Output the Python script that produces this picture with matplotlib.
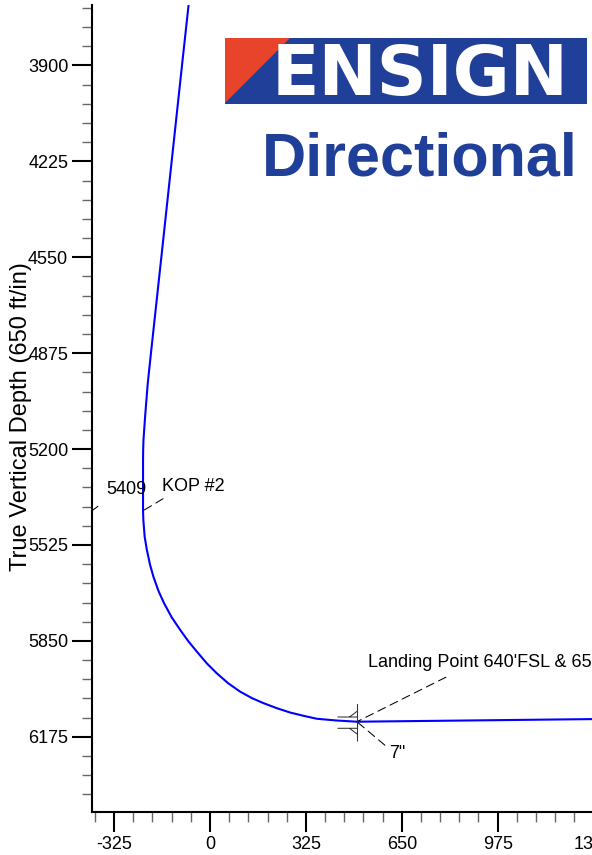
import matplotlib
matplotlib.use('Agg')
import matplotlib.pyplot as plt
from matplotlib.patches import Rectangle, Polygon
from matplotlib.path import Path
from matplotlib.ticker import MultipleLocator

plt.rcParams['font.family'] = ['Liberation Sans', 'DejaVu Sans']
plt.rcParams['axes.unicode_minus'] = False

# Well path: vertical section [ft] vs true vertical depth [ft]
vs_ft = [-71, -95, -130, -165, -199, -211, -220, -225.5, -226.5, -227, -227, -226, -221.5,
         -214, -203, -192, -175, -156, -130, -101, -73, -45, -11, 23, 62, 102,
         142, 181, 226, 272, 317, 362, 430, 498, 1310]
tvd_ft = [3680, 3900, 4225, 4550, 4864, 4977, 5090, 5169, 5200, 5237, 5409, 5440, 5497,
          5542, 5593, 5632, 5680, 5722, 5770, 5813, 5852, 5886, 5926, 5960, 5994, 6022,
          6044, 6061, 6078, 6093, 6104, 6114, 6120, 6124, 6115]

# Points of interest
kop = (-227, 5409)
kop_label = 'KOP #2'
kop_depth_label = '5409'
landing = (498, 6124)
landing_label = "Landing Point 640'FSL & 65"
casing_label = '7"'

W, H = 592, 855
BLUE_LOGO = '#1f3f98'
RED_LOGO = '#e8432b'

fig = plt.figure(figsize=(W / 100, H / 100), dpi=100)
ax = fig.add_axes([92 / W, 43 / H, 504.5 / W, 807 / H])

ax.plot(vs_ft, tvd_ft, color='#0000ff', lw=1.5, solid_joinstyle='round', zorder=3)

ax.set_xlim(-400, 1310)
ax.set_ylim(6430, 3695)

ax.xaxis.set_major_locator(MultipleLocator(325))
ax.yaxis.set_major_locator(MultipleLocator(325))
ax.xaxis.set_minor_locator(MultipleLocator(65))
ax.yaxis.set_minor_locator(MultipleLocator(65))
ax.tick_params(which='major', length=14.4, width=1.5, pad=2.7, labelsize=13, color='black')
ax.tick_params(which='minor', length=7.5, width=1.0, color='#666666')

ax.spines['top'].set_visible(False)
ax.spines['right'].set_visible(False)
ax.spines['left'].set_linewidth(1.5)
ax.spines['bottom'].set_linewidth(1.5)

ax.set_ylabel('True Vertical Depth (650 ft/in)', fontsize=17)
ax.yaxis.set_label_coords((21 - 92) / 504.5, 1 - (416.5 - 5) / 807)
ax.yaxis.label.set_va('center')

# casing shoe symbol at the landing point (offsets in pixels)
shoe = Path([(0, 18.5), (0, -19), (-20, 5.5), (0, 5.5), (-8, 5.5), (0, 11.5),
             (-20, -5.8), (0, -5.8), (-8, -5.8), (0, -11.8)],
            [Path.MOVETO, Path.LINETO] * 5)
ax.plot([landing[0]], [landing[1]], marker=shoe, markersize=40 / 1.389,
        markerfacecolor='none', markeredgecolor='#333333', markeredgewidth=0.75,
        linestyle='none', zorder=4)

dash = dict(arrowstyle='-', color='black', lw=0.75, linestyle=(0, (8, 5)),
            shrinkA=0, shrinkB=0)


def leader(xy, off):
    ax.annotate('', xy=xy, xytext=off, textcoords='offset pixels',
                arrowprops=dash, annotation_clip=False)


def label(txt, xy, off):
    ax.annotate(txt, xy=xy, xytext=off, textcoords='offset pixels',
                ha='left', va='baseline', fontsize=13, annotation_clip=False)


leader(kop, (20, 12))
label(kop_label, kop, (19.3, 19.3))
label(kop_depth_label, kop, (-37, 16.7))
ax.annotate('', xy=(-400, kop[1]), xytext=(6, 4.5), textcoords='offset pixels',
            arrowprops=dict(arrowstyle='-', color='black', lw=0.75, shrinkA=0, shrinkB=0),
            annotation_clip=False)

leader(landing, (89, 44.5))
label(landing_label, landing, (11.3, 54.8))
leader(landing, (28, -23.5))
label(casing_label, landing, (32.6, -35.8))

# company logo
fig.add_artist(Rectangle((225 / W, 1 - 104 / H), (587 - 225) / W, (104 - 38) / H,
                         transform=fig.transFigure, color=BLUE_LOGO, lw=0, zorder=5))
fig.add_artist(Polygon([(225 / W, 1 - 38 / H), (290 / W, 1 - 38 / H), (225 / W, 1 - 103 / H)],
                       closed=True, transform=fig.transFigure, color=RED_LOGO, lw=0, zorder=5))
fig.text(420.5 / W, 1 - 94.5 / H, 'ENSIGN', color='white', fontsize=50, fontweight='bold',
         family='DejaVu Sans', ha='center', va='baseline', zorder=6)
fig.text(420 / W, 1 - 175 / H, 'Directional', color=BLUE_LOGO, fontsize=44,
         fontweight='bold', family='Liberation Sans', ha='center', va='baseline', zorder=6)

fig.savefig('out.png', dpi=100)
